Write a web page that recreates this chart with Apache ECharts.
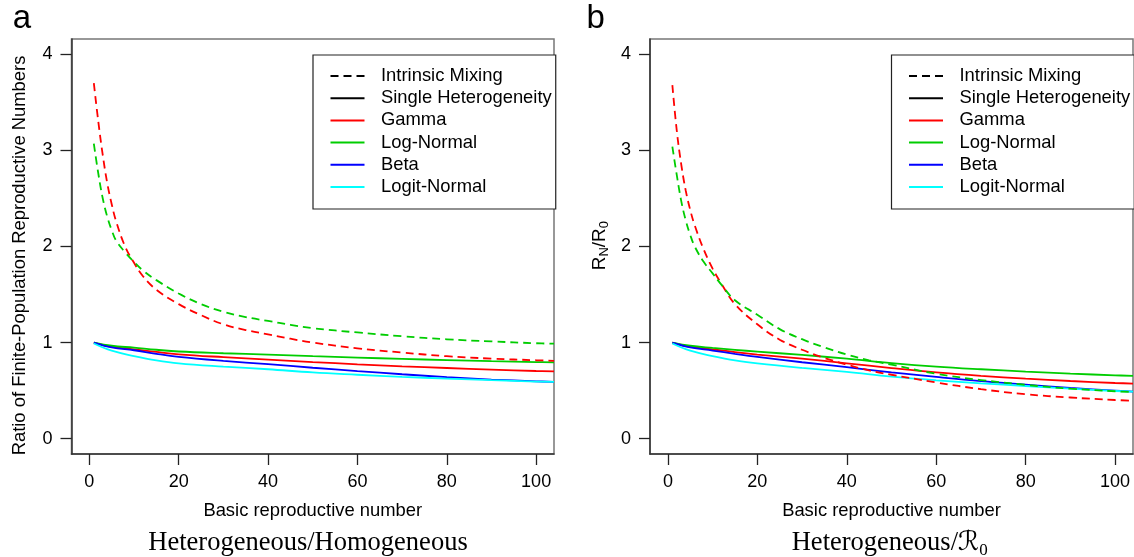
<!DOCTYPE html>
<html><head><meta charset="utf-8">
<script src="https://cdn.jsdelivr.net/npm/echarts@6/dist/echarts.min.js"></script>
<style>html,body{margin:0;padding:0;background:#fff}#c{width:1134px;height:557px}</style>
</head><body><div id="c"></div>
<script>
// x positions (basic reproductive number)
const xSolid = [1, 5, 10, 15, 20, 30, 40, 50, 60, 70, 80, 90, 100, 104];
const xDashed = [1, 2, 3, 4, 5, 6, 8, 10, 12, 15, 20, 25, 30, 35, 40, 45, 50, 60, 70, 80, 90, 100, 104];
const xTicks = [0, 20, 40, 60, 80, 100];
const yTicks = [0, 1, 2, 3, 4];
const legendNames = ['Intrinsic Mixing', 'Single Heterogeneity', 'Gamma', 'Log-Normal', 'Beta', 'Logit-Normal'];

// Panel a: Heterogeneous / Homogeneous  (single heterogeneity, solid)
const aGamma       = [1.0, 0.955, 0.93, 0.902, 0.878, 0.848, 0.822, 0.797, 0.774, 0.753, 0.735, 0.719, 0.704, 0.70];
const aLogNormal   = [1.0, 0.967, 0.947, 0.925, 0.907, 0.889, 0.875, 0.858, 0.844, 0.83, 0.818, 0.806, 0.797, 0.794];
const aBeta        = [1.0, 0.95, 0.92, 0.883, 0.852, 0.81, 0.775, 0.738, 0.703, 0.67, 0.64, 0.615, 0.597, 0.59];
const aLogitNormal = [0.99, 0.915, 0.86, 0.815, 0.784, 0.75, 0.722, 0.689, 0.665, 0.643, 0.625, 0.608, 0.594, 0.59];
// Panel a: intrinsic mixing (dashed)
const aGammaIM     = [3.70, 3.30, 2.95, 2.66, 2.44, 2.26, 2.00, 1.83, 1.69, 1.55, 1.40, 1.285, 1.19, 1.13, 1.086, 1.04, 1.0, 0.94, 0.896, 0.858, 0.833, 0.816, 0.81];
const aLogNormalIM = [3.07, 2.76, 2.50, 2.31, 2.17, 2.06, 1.94, 1.84, 1.75, 1.65, 1.51, 1.40, 1.32, 1.265, 1.225, 1.185, 1.15, 1.105, 1.066, 1.034, 1.012, 0.993, 0.988];

// Panel b: Heterogeneous / R0 (solid)
const bGamma       = [1.0, 0.955, 0.93, 0.9, 0.875, 0.833, 0.784, 0.735, 0.69, 0.654, 0.625, 0.6, 0.579, 0.573];
const bLogNormal   = [1.0, 0.967, 0.944, 0.924, 0.906, 0.871, 0.832, 0.787, 0.75, 0.722, 0.698, 0.677, 0.659, 0.653];
const bBeta        = [1.0, 0.95, 0.917, 0.882, 0.85, 0.795, 0.744, 0.69, 0.642, 0.598, 0.562, 0.528, 0.50, 0.49];
const bLogitNormal = [0.99, 0.915, 0.86, 0.815, 0.784, 0.736, 0.694, 0.645, 0.607, 0.576, 0.548, 0.52, 0.496, 0.49];
// Panel b: intrinsic mixing (dashed)
const bGammaIM     = [3.68, 3.20, 2.85, 2.58, 2.38, 2.22, 1.97, 1.77, 1.61, 1.40, 1.19, 1.03, 0.925, 0.84, 0.77, 0.71, 0.665, 0.585, 0.515, 0.462, 0.428, 0.402, 0.395];
const bLogNormalIM = [3.04, 2.74, 2.47, 2.27, 2.12, 2.0, 1.84, 1.72, 1.60, 1.44, 1.29, 1.14, 1.035, 0.95, 0.875, 0.815, 0.77, 0.675, 0.61, 0.56, 0.52, 0.493, 0.485];

const RED = '#FF0000', GREEN = '#00CD00', BLUE = '#0000FF', CYAN = '#00FFFF';
const SANS = 'Liberation Sans, Arial, Helvetica, sans-serif';
const SERIF = 'Liberation Serif, Times New Roman, serif';
const DASH = [8, 5];

function pts(xs, ys) { return xs.map((x, i) => [x, ys[i]]); }
function line(name, xs, ys, color, dashed, gi) {
  return {
    type: 'line', name: name, xAxisIndex: gi, yAxisIndex: gi,
    data: pts(xs, ys), showSymbol: false, symbol: 'none',
    smooth: 0.4, clip: true,
    color: color, itemStyle: {color: color},
    lineStyle: {color: color, width: 1.8, type: dashed ? DASH : 'solid'},
    emphasis: {disabled: true}, silent: true, z: dashed ? 3 : 2
  };
}
function dummy(name, dashed) {
  return {type: 'line', name: name, xAxisIndex: 0, yAxisIndex: 0, data: [], symbol: 'none',
    color: '#000', itemStyle: {color: '#000'},
    lineStyle: {color: '#000', width: 1.8, type: dashed ? DASH : 'solid'}};
}
function xAx(gi) {
  return {
    type: 'value', gridIndex: gi, min: -4, max: 104,
    axisLine: {show: true, onZero: false, lineStyle: {color: '#333', width: 1.5}},
    axisTick: {show: true, length: 11, customValues: xTicks, lineStyle: {color: '#222', width: 1.3}},
    axisLabel: {show: true, customValues: xTicks, margin: 19.5, fontSize: 18, color: '#000', fontFamily: SANS},
    splitLine: {show: false},
    name: 'Basic reproductive number', nameLocation: 'middle', nameGap: 47.5,
    nameTextStyle: {fontSize: 18.4, color: '#000', fontFamily: SANS}
  };
}
function yAx(gi) {
  return {
    type: 'value', gridIndex: gi, min: -0.16, max: 4.16,
    axisLine: {show: true, onZero: false, lineStyle: {color: '#333', width: 1.5}},
    axisTick: {show: true, length: 11, customValues: yTicks, lineStyle: {color: '#222', width: 1.3}},
    axisLabel: {show: true, customValues: yTicks, margin: 19, fontSize: 18, color: '#000', fontFamily: SANS},
    splitLine: {show: false}
  };
}
function legendAt(left) {
  return {
    show: true, left: left, top: 55, orient: 'vertical', data: legendNames,
    itemWidth: 34, itemHeight: 14, itemGap: 4.2,
    padding: [12, 4, 13, 16.5],
    borderColor: '#222', borderWidth: 1.2, backgroundColor: '#fff',
    selectedMode: false,
    itemStyle: {color: 'transparent', borderWidth: 0, opacity: 0},
    textStyle: {fontSize: 18.4, lineHeight: 18, color: '#000', fontFamily: SANS, padding: [0, 0, 0, 11.5]}
  };
}

const series = [
  line('Gamma', xSolid, aGamma, RED, false, 0),
  line('Log-Normal', xSolid, aLogNormal, GREEN, false, 0),
  line('Beta', xSolid, aBeta, BLUE, false, 0),
  line('Logit-Normal', xSolid, aLogitNormal, CYAN, false, 0),
  line('Gamma (Intrinsic Mixing)', xDashed, aGammaIM, RED, true, 0),
  line('Log-Normal (Intrinsic Mixing)', xDashed, aLogNormalIM, GREEN, true, 0),
  line('Gamma', xSolid, bGamma, RED, false, 1),
  line('Log-Normal', xSolid, bLogNormal, GREEN, false, 1),
  line('Beta', xSolid, bBeta, BLUE, false, 1),
  line('Logit-Normal', xSolid, bLogitNormal, CYAN, false, 1),
  line('Gamma (Intrinsic Mixing)', xDashed, bGammaIM, RED, true, 1),
  line('Log-Normal (Intrinsic Mixing)', xDashed, bLogNormalIM, GREEN, true, 1),
  dummy('Intrinsic Mixing', true),
  dummy('Single Heterogeneity', false)
];

const chart = echarts.init(document.getElementById('c'), null, {renderer: 'canvas'});
chart.setOption({
  animation: false,
  backgroundColor: '#fff',
  grid: [
    {left: 71.5, top: 39, width: 482.5, height: 415, show: true, borderColor: '#777', borderWidth: 1.5, containLabel: false},
    {left: 650, top: 39, width: 483, height: 415, show: true, borderColor: '#777', borderWidth: 1.5, containLabel: false}
  ],
  xAxis: [xAx(0), xAx(1)],
  yAxis: [yAx(0), yAx(1)],
  legend: [legendAt(313), legendAt(891.5)],
  series: series,
  graphic: [
    {type: 'text', x: 22, y: 19.3, style: {text: 'a', fontSize: 33, fontFamily: SANS, fill: '#000', align: 'center', verticalAlign: 'middle'}},
    {type: 'text', x: 595.6, y: 18.6, style: {text: 'b', fontSize: 33, fontFamily: SANS, fill: '#000', align: 'center', verticalAlign: 'middle'}},
    {type: 'text', x: 19.8, y: 255.5, rotation: Math.PI / 2,
      style: {text: 'Ratio of Finite-Population Reproductive Numbers', fontSize: 18.4, fontFamily: SANS, fill: '#000', align: 'center', verticalAlign: 'middle'}},
    {type: 'text', x: 599.4, y: 245.6, rotation: Math.PI / 2,
      style: {text: '{b|R}{s|N}{b|/R}{s|0}', fontFamily: SANS, fill: '#000', align: 'center', verticalAlign: 'middle',
        rich: {b: {fontSize: 19, lineHeight: 24, fontFamily: SANS, verticalAlign: 'middle'},
               s: {fontSize: 13, lineHeight: 13, fontFamily: SANS, verticalAlign: 'bottom'}}}},
    {type: 'text', x: 308, y: 543, style: {text: 'Heterogeneous/Homogeneous', fontSize: 26.5, fontFamily: SERIF, fill: '#000', align: 'center', verticalAlign: 'middle'}},
    {type: 'text', x: 889.7, y: 543, style: {text: '{t|Heterogeneous/}{r|ℛ}{s|0}', fill: '#000', align: 'center', verticalAlign: 'middle',
        rich: {t: {fontSize: 26.5, lineHeight: 32, fontFamily: SERIF, verticalAlign: 'middle'},
               r: {fontSize: 26.5, lineHeight: 32, fontFamily: 'DejaVu Serif, DejaVu Sans, serif', verticalAlign: 'middle'},
               s: {fontSize: 17, lineHeight: 17, fontFamily: SERIF, verticalAlign: 'bottom'}}}}
  ]
});
</script>
</body></html>
